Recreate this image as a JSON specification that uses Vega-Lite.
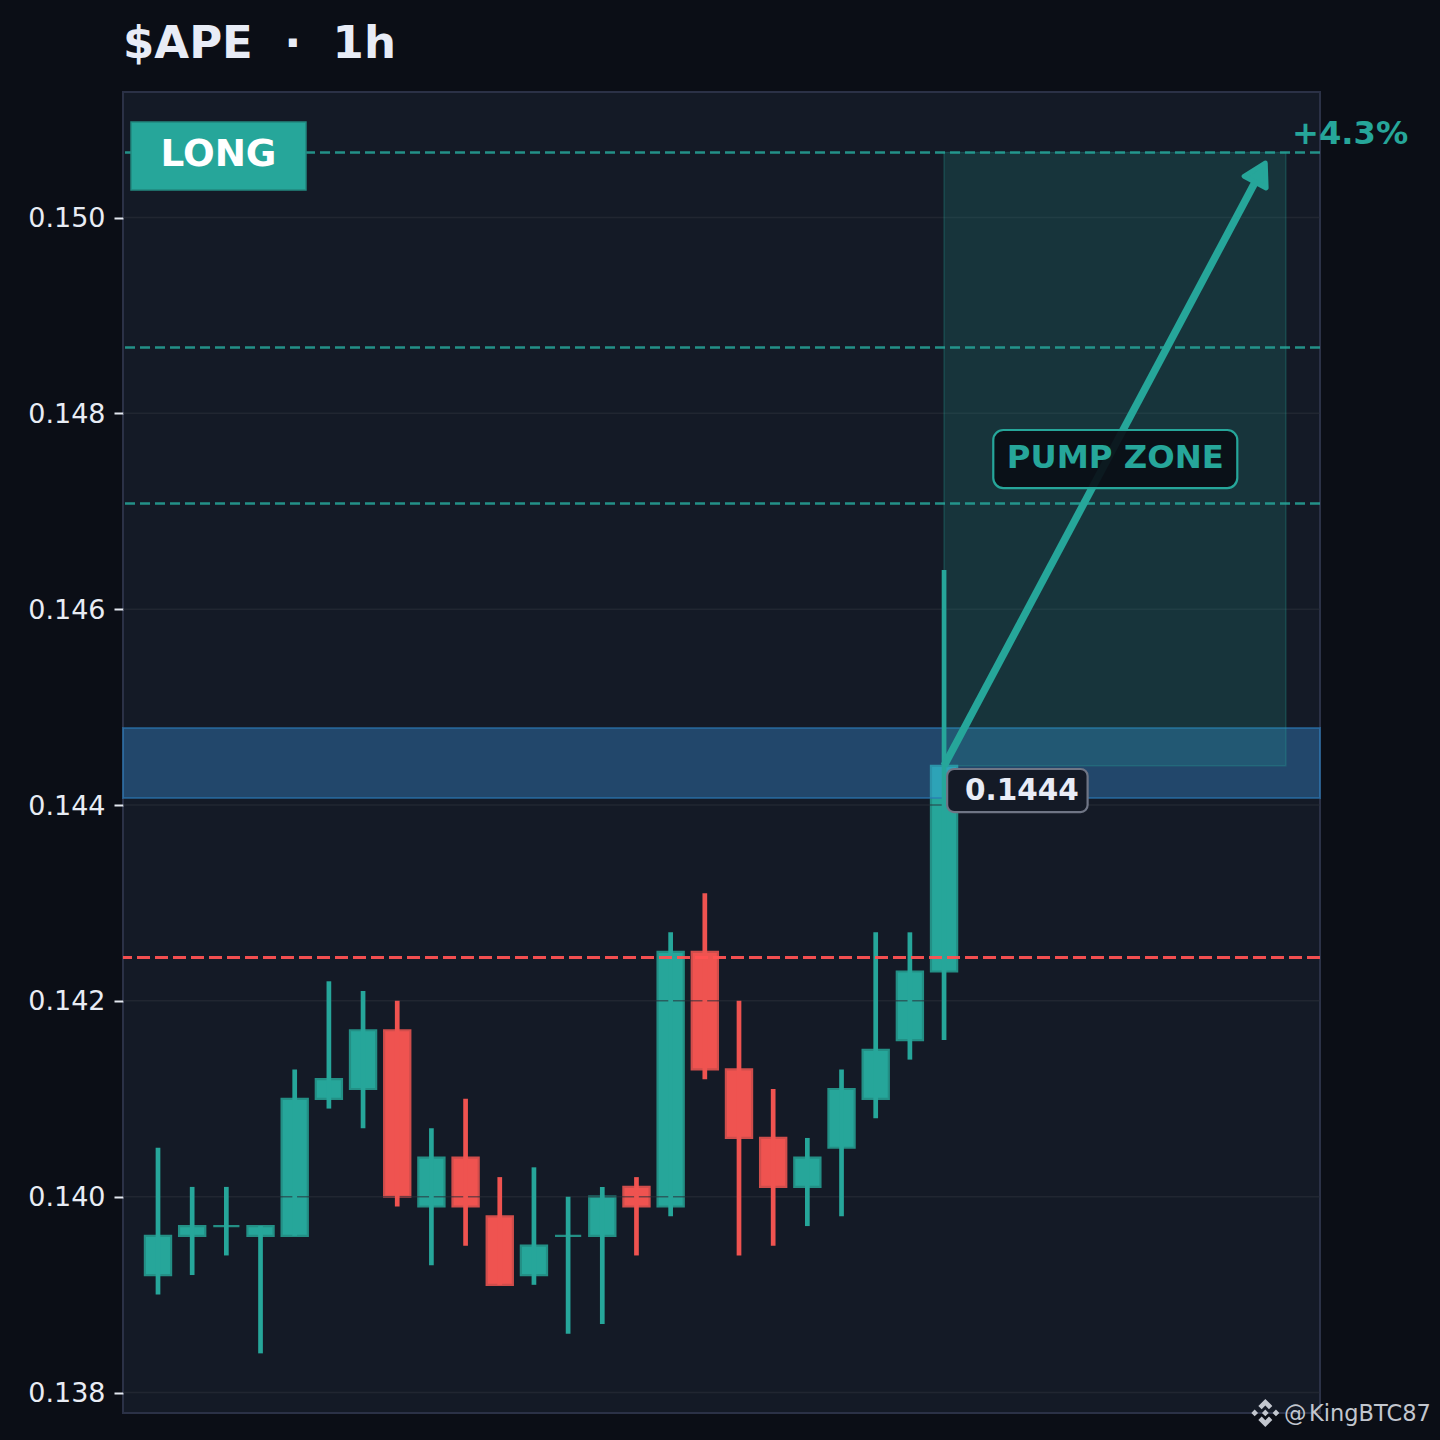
{
  "$schema": "https://vega.github.io/schema/vega-lite/v6.json",
  "autosize": "none",
  "padding": {"left": 123, "top": 92, "right": 120, "bottom": 27},
  "width": 1197,
  "height": 1321,
  "background": "#0b0e16",
  "title": {
    "text": "$APE\u00a0\u00a0·\u00a0\u00a01h",
    "anchor": "start",
    "frame": "group",
    "font": "DejaVu Sans",
    "fontWeight": "bold",
    "fontSize": 45,
    "color": "#e8ecf6",
    "baseline": "alphabetic",
    "offset": -11,
    "dx": 0
  },
  "config": {
    "font": "DejaVu Sans",
    "view": {"fill": "#141a26", "stroke": "#2b3146", "strokeWidth": 2}
  },
  "datasets": {
    "candles": [
      {"i": 0, "open": 0.1392, "close": 0.1396, "high": 0.1405, "low": 0.1390, "dir": "up"},
      {"i": 1, "open": 0.1396, "close": 0.1397, "high": 0.1401, "low": 0.1392, "dir": "up"},
      {"i": 2, "open": 0.1397, "close": 0.1397, "high": 0.1401, "low": 0.1394, "dir": "up"},
      {"i": 3, "open": 0.1396, "close": 0.1397, "high": 0.1397, "low": 0.1384, "dir": "up"},
      {"i": 4, "open": 0.1396, "close": 0.1410, "high": 0.1413, "low": 0.1396, "dir": "up"},
      {"i": 5, "open": 0.1410, "close": 0.1412, "high": 0.1422, "low": 0.1409, "dir": "up"},
      {"i": 6, "open": 0.1411, "close": 0.1417, "high": 0.1421, "low": 0.1407, "dir": "up"},
      {"i": 7, "open": 0.1417, "close": 0.1400, "high": 0.1420, "low": 0.1399, "dir": "down"},
      {"i": 8, "open": 0.1399, "close": 0.1404, "high": 0.1407, "low": 0.1393, "dir": "up"},
      {"i": 9, "open": 0.1404, "close": 0.1399, "high": 0.1410, "low": 0.1395, "dir": "down"},
      {"i": 10, "open": 0.1398, "close": 0.1391, "high": 0.1402, "low": 0.1391, "dir": "down"},
      {"i": 11, "open": 0.1392, "close": 0.1395, "high": 0.1403, "low": 0.1391, "dir": "up"},
      {"i": 12, "open": 0.1396, "close": 0.1396, "high": 0.1400, "low": 0.1386, "dir": "up"},
      {"i": 13, "open": 0.1396, "close": 0.1400, "high": 0.1401, "low": 0.1387, "dir": "up"},
      {"i": 14, "open": 0.1401, "close": 0.1399, "high": 0.1402, "low": 0.1394, "dir": "down"},
      {"i": 15, "open": 0.1399, "close": 0.1425, "high": 0.1427, "low": 0.1398, "dir": "up"},
      {"i": 16, "open": 0.1425, "close": 0.1413, "high": 0.1431, "low": 0.1412, "dir": "down"},
      {"i": 17, "open": 0.1413, "close": 0.1406, "high": 0.1420, "low": 0.1394, "dir": "down"},
      {"i": 18, "open": 0.1406, "close": 0.1401, "high": 0.1411, "low": 0.1395, "dir": "down"},
      {"i": 19, "open": 0.1401, "close": 0.1404, "high": 0.1406, "low": 0.1397, "dir": "up"},
      {"i": 20, "open": 0.1405, "close": 0.1411, "high": 0.1413, "low": 0.1398, "dir": "up"},
      {"i": 21, "open": 0.1410, "close": 0.1415, "high": 0.1427, "low": 0.1408, "dir": "up"},
      {"i": 22, "open": 0.1416, "close": 0.1423, "high": 0.1427, "low": 0.1414, "dir": "up"},
      {"i": 23, "open": 0.1423, "close": 0.1444, "high": 0.1464, "low": 0.1416, "dir": "up"}
    ],
    "gridlines": [
      {"price": 0.138}, {"price": 0.140}, {"price": 0.142}, {"price": 0.144},
      {"price": 0.146}, {"price": 0.148}, {"price": 0.150}
    ],
    "targets": [
      {"price": 0.150664}, {"price": 0.148672}, {"price": 0.147079}
    ],
    "arrow": [
      {"i": 23, "price": 0.1444},
      {"i": 32.16, "price": 0.15040}
    ],
    "watermark": [
      {"i": 32.95, "price": 0.137785, "label": "@"},
      {"i": 33.68, "price": 0.137785, "label": "KingBTC87"}
    ]
  },
  "layer": [
    {
      "data": {"name": "candles"},
      "mark": {"type": "bar", "size": 26.2, "strokeWidth": 2.2},
      "encoding": {
        "x": {"field": "i", "type": "quantitative", "scale": {"domain": [-1.024, 34], "nice": false, "zero": false, "padding": 0}, "axis": null},
        "y": {
          "field": "open",
          "type": "quantitative",
          "scale": {"domain": [0.137791, 0.151282], "nice": false, "zero": false},
          "title": null,
          "axis": {
            "values": [0.138, 0.140, 0.142, 0.144, 0.146, 0.148, 0.150],
            "format": ".3f",
            "grid": false,
            "domain": false,
            "tickColor": "#e4e8f0",
            "tickSize": 9,
            "tickWidth": 2,
            "labelColor": "#e8ecf4",
            "labelFontSize": 27,
            "labelPadding": 9,
            "labelOffset": 1
          }
        },
        "y2": {"field": "close"},
        "fill": {"field": "dir", "type": "nominal", "scale": {"domain": ["up", "down"], "range": ["#26a69a", "#ef5350"]}, "legend": null},
        "stroke": {"field": "dir", "type": "nominal", "scale": {"domain": ["up", "down"], "range": ["#238f85", "#d04d4b"]}, "legend": null}
      }
    },
    {
      "data": {"name": "gridlines"},
      "mark": {"type": "rule", "stroke": "#2a2e39", "strokeWidth": 1.5, "opacity": 0.6},
      "encoding": {"y": {"field": "price", "type": "quantitative"}}
    },
    {
      "data": {"values": [{"top": 0.144787, "bottom": 0.144071}]},
      "mark": {"type": "rect", "fill": "#3c9ded", "fillOpacity": 0.35, "stroke": "#2a78b4", "strokeOpacity": 0.6, "strokeWidth": 2},
      "encoding": {
        "y": {"field": "top", "type": "quantitative"},
        "y2": {"field": "bottom"}
      }
    },
    {
      "data": {"values": [{"i": 23, "i2": 33, "top": 0.150664, "bottom": 0.1444}]},
      "mark": {"type": "rect", "fill": "#26a69a", "fillOpacity": 0.19, "stroke": "#26a69a", "strokeOpacity": 0.25, "strokeWidth": 1.5},
      "encoding": {
        "x": {"field": "i", "type": "quantitative"},
        "x2": {"field": "i2"},
        "y": {"field": "top", "type": "quantitative"},
        "y2": {"field": "bottom"}
      }
    },
    {
      "data": {"name": "candles"},
      "mark": {"type": "rule", "strokeWidth": 4.7},
      "encoding": {
        "x": {"field": "i", "type": "quantitative"},
        "y": {"field": "low", "type": "quantitative"},
        "y2": {"field": "high"},
        "color": {"field": "dir", "type": "nominal", "scale": {"domain": ["up", "down"], "range": ["#26a69a", "#ef5350"]}, "legend": null}
      }
    },
    {
      "data": {"name": "targets"},
      "mark": {"type": "rule", "stroke": "#26a69a", "strokeOpacity": 0.85, "strokeWidth": 2.6, "strokeDash": [10, 5]},
      "encoding": {"y": {"field": "price", "type": "quantitative"}}
    },
    {
      "data": {"values": [{"price": 0.142443}]},
      "mark": {"type": "rule", "stroke": "#ff5252", "strokeOpacity": 0.95, "strokeWidth": 3.2, "strokeDash": [13, 5]},
      "encoding": {"y": {"field": "price", "type": "quantitative"}}
    },
    {
      "data": {"name": "arrow"},
      "mark": {"type": "line", "stroke": "#26a69a", "strokeWidth": 7.5},
      "encoding": {
        "x": {"field": "i", "type": "quantitative"},
        "y": {"field": "price", "type": "quantitative"},
        "order": {"field": "i", "type": "quantitative"}
      }
    },
    {
      "data": {"values": [{"i": 32.25, "price": 0.150459}]},
      "mark": {"type": "point", "shape": "triangle-up", "size": 620, "angle": 28, "filled": true, "fill": "#26a69a", "stroke": "#26a69a", "strokeWidth": 5, "strokeJoin": "round", "opacity": 1},
      "encoding": {
        "x": {"field": "i", "type": "quantitative"},
        "y": {"field": "price", "type": "quantitative"}
      }
    },
    {
      "data": {"values": [{"i": 24.44, "i2": 31.58, "top": 0.14783, "bottom": 0.147237}]},
      "mark": {"type": "rect", "fill": "#0a0e16", "fillOpacity": 0.92, "stroke": "#26a69a", "strokeWidth": 2.2, "cornerRadius": 10},
      "encoding": {
        "x": {"field": "i", "type": "quantitative"},
        "x2": {"field": "i2"},
        "y": {"field": "top", "type": "quantitative"},
        "y2": {"field": "bottom"}
      }
    },
    {
      "data": {"values": [{"i": 28.01, "price": 0.147544, "label": "PUMP ZONE"}]},
      "mark": {"type": "text", "font": "DejaVu Sans", "fontWeight": "bold", "fontSize": 32.3, "color": "#26a69a", "align": "center", "baseline": "middle"},
      "encoding": {
        "x": {"field": "i", "type": "quantitative"},
        "y": {"field": "price", "type": "quantitative"},
        "text": {"field": "label"}
      }
    },
    {
      "data": {"values": [{"i": 23.09, "i2": 27.2, "top": 0.144368, "bottom": 0.143928}]},
      "mark": {"type": "rect", "fill": "#141a26", "stroke": "#6f7585", "strokeWidth": 2.2, "cornerRadius": 7},
      "encoding": {
        "x": {"field": "i", "type": "quantitative"},
        "x2": {"field": "i2"},
        "y": {"field": "top", "type": "quantitative"},
        "y2": {"field": "bottom"}
      }
    },
    {
      "data": {"values": [{"i": 23.61, "price": 0.144143, "label": "0.1444"}]},
      "mark": {"type": "text", "font": "DejaVu Sans", "fontWeight": "bold", "fontSize": 29.5, "color": "#e8ecf6", "align": "left", "baseline": "middle"},
      "encoding": {
        "x": {"field": "i", "type": "quantitative"},
        "y": {"field": "price", "type": "quantitative"},
        "text": {"field": "label"}
      }
    },
    {
      "data": {"values": [{"i": -0.79, "i2": 4.33, "top": 0.150975, "bottom": 0.150281}]},
      "mark": {"type": "rect", "fill": "#26a69a", "stroke": "#22887f", "strokeWidth": 1.5},
      "encoding": {
        "x": {"field": "i", "type": "quantitative"},
        "x2": {"field": "i2"},
        "y": {"field": "top", "type": "quantitative"},
        "y2": {"field": "bottom"}
      }
    },
    {
      "data": {"values": [{"i": 1.77, "price": 0.150634, "label": "LONG"}]},
      "mark": {"type": "text", "font": "DejaVu Sans", "fontWeight": "bold", "fontSize": 37.3, "color": "#ffffff", "align": "center", "baseline": "middle"},
      "encoding": {
        "x": {"field": "i", "type": "quantitative"},
        "y": {"field": "price", "type": "quantitative"},
        "text": {"field": "label"}
      }
    },
    {
      "data": {"values": [{"i": 33.18, "price": 0.150853, "label": "+4.3%"}]},
      "mark": {"type": "text", "font": "DejaVu Sans", "fontWeight": "bold", "fontSize": 32.2, "color": "#26a69a", "align": "left", "baseline": "middle"},
      "encoding": {
        "x": {"field": "i", "type": "quantitative"},
        "y": {"field": "price", "type": "quantitative"},
        "text": {"field": "label"}
      }
    },
    {
      "data": {"values": [{"i": 32.4, "price": 0.137792}]},
      "mark": {
        "type": "point",
        "shape": "M0,-1L0.5,-0.5L0.26,-0.26L0,-0.52L-0.26,-0.26L-0.5,-0.5ZM0,1L0.5,0.5L0.26,0.26L0,0.52L-0.26,0.26L-0.5,0.5ZM0,-0.24L0.24,0L0,0.24L-0.24,0ZM-0.76,-0.24L-0.52,0L-0.76,0.24L-1,0ZM0.76,-0.24L1,0L0.76,0.24L0.52,0Z",
        "size": 784,
        "filled": true,
        "fill": "#c2c6ce",
        "opacity": 1
      },
      "encoding": {
        "x": {"field": "i", "type": "quantitative"},
        "y": {"field": "price", "type": "quantitative"}
      }
    },
    {
      "data": {"name": "watermark"},
      "mark": {"type": "text", "font": "DejaVu Sans", "fontSize": 22.5, "color": "#c2c6ce", "align": "left", "baseline": "middle"},
      "encoding": {
        "x": {"field": "i", "type": "quantitative"},
        "y": {"field": "price", "type": "quantitative"},
        "text": {"field": "label"}
      }
    }
  ]
}
